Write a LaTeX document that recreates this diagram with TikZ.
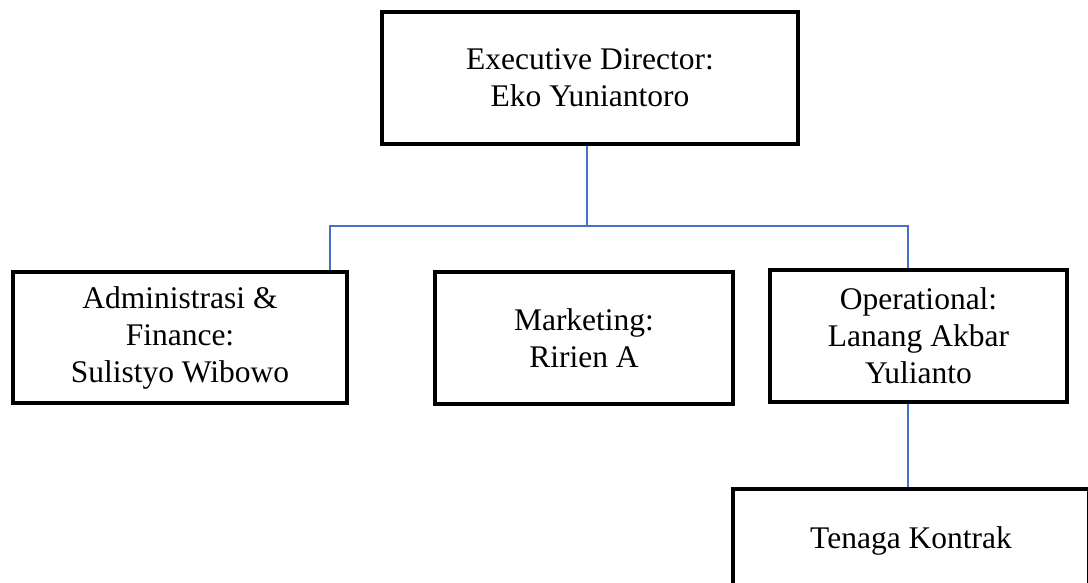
\documentclass[tikz,border=0pt]{standalone}
\usepackage{fontspec}
\setmainfont{Liberation Serif}
\begin{document}
\begin{tikzpicture}[x=1pt, y=-1pt]
\tikzset{orgbox/.style={shape=rectangle, draw, line width=4.5pt, align=center, inner sep=0pt, font=\fontsize{31.5}{37}\selectfont}}
\tikzset{orglink/.style={draw={rgb,255:red,68;green,114;blue,196}, line width=1.4pt}}
% frame of the page
\useasboundingbox (0,0) rectangle (1088,582);
\clip (0,0) rectangle (1088,582);
% top
\node (exec) [orgbox, minimum width=416pt, minimum height=132pt] at (590, 78) {Executive Director:\\Eko Yuniantoro};
% second row
\node (admin) [orgbox, minimum width=334pt, minimum height=131pt] at (180, 337.5) {Administrasi \&\\Finance:\\Sulistyo Wibowo};
\node (mkt) [orgbox, minimum width=298pt, minimum height=132pt] at (584, 338) {Marketing:\\Ririen A};
\node (oper) [orgbox, minimum width=297pt, minimum height=132pt] at (918.5, 336) {Operational:\\Lanang Akbar\\Yulianto};
% bottom
\node (kontrak) [orgbox, minimum width=356pt, minimum height=104pt] at (911, 541) {Tenaga Kontrak};
% bus
\coordinate (busM) at (587, 226);
\coordinate (busL) at (330, 226);
\coordinate (busR) at (908, 226);
% links
\draw[orglink] (exec.south -| busM) -- (busM);
\draw[orglink] (admin.north -| busL) -- (busL) -- (busR) -- (oper.north -| busR);
\draw[orglink] (oper.south -| busR) -- (kontrak.north -| busR);
\end{tikzpicture}
\end{document}
